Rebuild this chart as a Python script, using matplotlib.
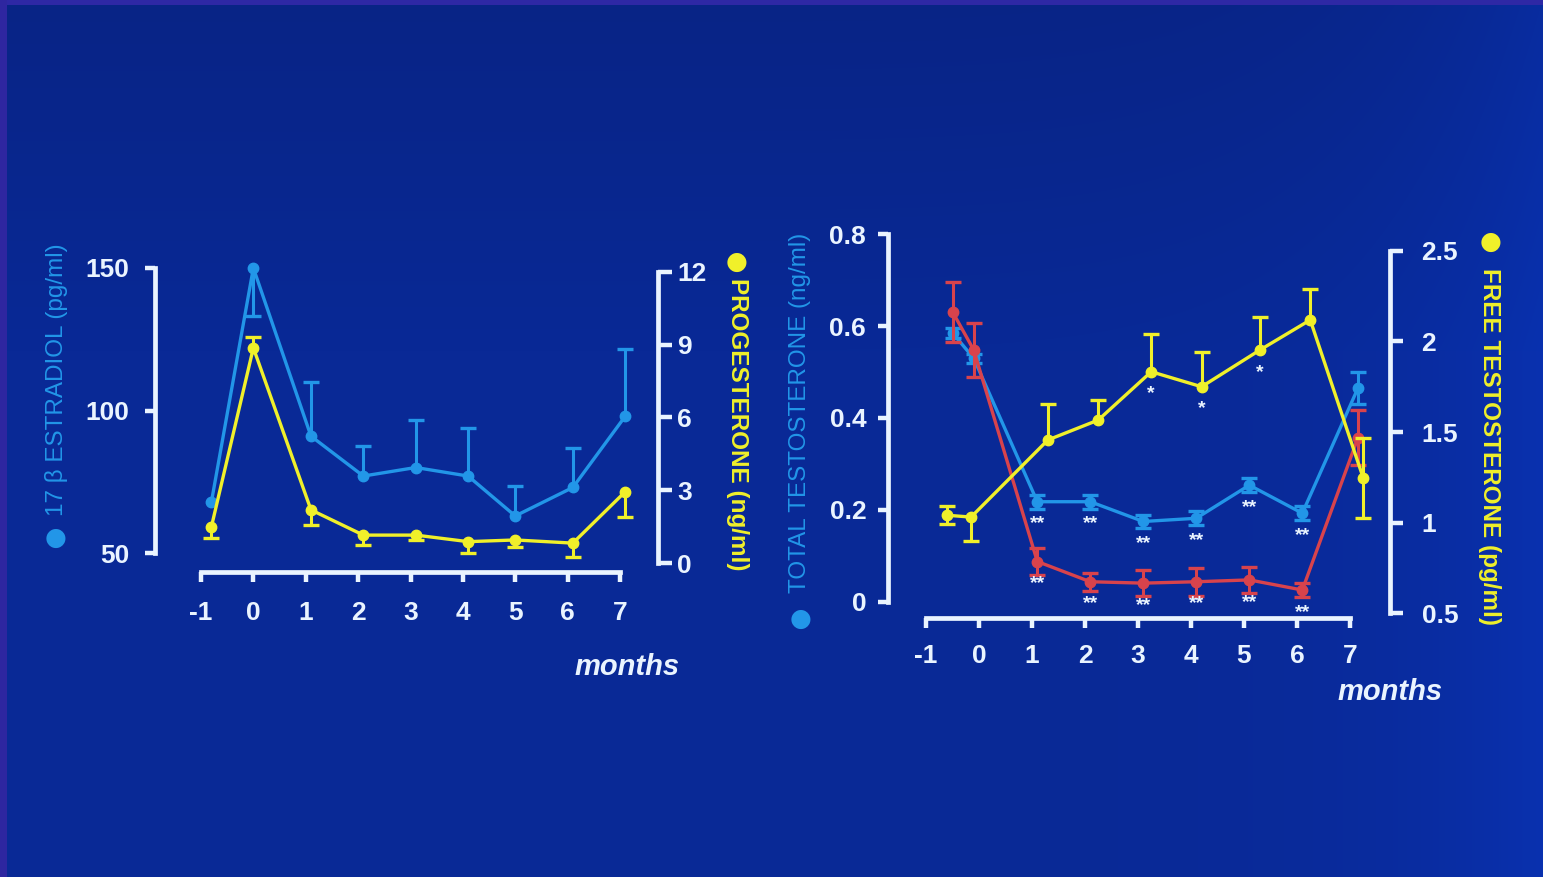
import numpy as np
import matplotlib
matplotlib.use('Agg')
import matplotlib.pyplot as plt

# ---- data ----
# left panel: 17 beta estradiol (pg/ml) and progesterone (ng/ml)
months_l = [-0.8, 0, 1.1, 2.1, 3.1, 4.1, 5.0, 6.1, 7.1]
estradiol = [68, 150, 91, 77, 80, 77, 63, 73, 98]
estradiol_err_lo = [0, 17, 0, 0, 0, 0, 0, 0, 0]
estradiol_err_hi = [0, 0, 19, 10.5, 16.5, 17, 10.5, 14, 23.5]
progesterone = [1.5, 8.87, 2.19, 1.15, 1.15, 0.88, 0.95, 0.82, 2.94]
prog_err_lo = [0.47, 0, 0.62, 0.41, 0.2, 0.46, 0.3, 0.58, 1.03]
prog_err_hi = [0, 0.45, 0, 0, 0, 0, 0, 0, 0]

# right panel: total testosterone (ng/ml), two groups, and free testosterone (pg/ml)
months_tt = [-0.5, -0.1, 1.1, 2.1, 3.1, 4.1, 5.1, 6.1, 7.15]
months_ft = [-0.6, -0.15, 1.3, 2.25, 3.25, 4.2, 5.3, 6.25, 7.25]
tt_blue = [0.585, 0.53, 0.218, 0.218, 0.175, 0.182, 0.254, 0.193, 0.465]
tt_blue_err = [0.01, 0.01, 0.015, 0.015, 0.015, 0.015, 0.015, 0.015, 0.035]
tt_red = [0.631, 0.548, 0.088, 0.044, 0.041, 0.044, 0.048, 0.026, 0.357]
tt_red_err = [0.065, 0.059, 0.03, 0.02, 0.029, 0.03, 0.029, 0.015, 0.06]
free_t = [1.04, 1.03, 1.456, 1.566, 1.833, 1.75, 1.953, 2.119, 1.246]
free_t_err_lo = [0.05, 0.13, 0, 0, 0, 0, 0, 0, 0.22]
free_t_err_hi = [0.05, 0, 0.2, 0.11, 0.21, 0.19, 0.18, 0.17, 0.22]
sig_blue = ['', '', '**', '**', '**', '**', '**', '**', '']
sig_red = ['', '', '**', '**', '**', '**', '**', '**', '']
sig_free = ['', '', '', '', '*', '*', '*', '', '']

month_ticks = [-1, 0, 1, 2, 3, 4, 5, 6, 7]
estradiol_ticks = [50, 100, 150]
prog_ticks = [0, 3, 6, 9, 12]
tt_ticks = [0, 0.2, 0.4, 0.6, 0.8]
tt_labels = ['0', '0.2', '0.4', '0.6', '0.8']
ft_ticks = [0.5, 1, 1.5, 2, 2.5]
ft_labels = ['0.5', '1', '1.5', '2', '2.5']

# colours
WHITE = '#eaf4ff'
BLUE = '#2296e8'
YELLOW = '#f0f02a'
RED = '#d8434c'

W, H = 1543, 877
plt.rcParams['axes.unicode_minus'] = False
plt.rcParams['font.family'] = ['Liberation Sans', 'DejaVu Sans']

fig = plt.figure(figsize=(W / 100, H / 100), dpi=100)

# background: projected slide blue with the purple frame at top / left
bg = fig.add_axes([0, 0, 1, 1], zorder=-10)
yy, xx = np.mgrid[0:1:877j, 0:1:1543j]
top = np.array([8, 36, 134]) / 255
mid = np.array([9, 41, 150]) / 255
t = np.clip(yy / 0.4, 0, 1)[..., None]
img = top + (mid - top) * t
img = img + (np.array([0, 8, 25]) / 255) * (xx ** 10)[..., None]
img[:5, :] = np.array([46, 40, 165]) / 255
img[:, :7] = np.array([46, 38, 160]) / 255
bg.imshow(np.clip(img, 0, 1), aspect='auto', extent=[0, 1, 0, 1])
bg.axis('off')


def px_box(x0, y0, x1, y1):
  return [x0 / W, 1 - y1 / H, (x1 - x0) / W, (y1 - y0) / H]


def style(ax, side, out_px, bounds, ticks, labels, pad_pt, tick_len=7):
  ax.set_facecolor('none')
  for s in ['left', 'right', 'top', 'bottom']:
    ax.spines[s].set_visible(False)
  sp = ax.spines[side]
  sp.set_visible(True)
  sp.set_color(WHITE)
  sp.set_linewidth(3.4)
  sp.set_position(('outward', out_px * 0.72))
  sp.set_bounds(*bounds)
  if side in ('left', 'right'):
    ax.yaxis.set_ticks_position(side)
    ax.set_yticks(ticks)
    ax.set_yticklabels(labels)
    ax.tick_params(axis='y', direction='out', length=tick_len, width=3.2,
                   color=WHITE, pad=pad_pt, labelcolor=WHITE, labelsize=19)
    for lab in ax.get_yticklabels():
      lab.set_fontweight('bold')
  else:
    ax.xaxis.set_ticks_position('bottom')
    ax.set_xticks(ticks)
    ax.set_xticklabels(labels)
    ax.tick_params(axis='x', direction='out', length=tick_len, width=3.2,
                   color=WHITE, pad=pad_pt, labelcolor=WHITE, labelsize=19)
    for lab in ax.get_xticklabels():
      lab.set_fontweight('bold')


def series(ax, x, y, lo, hi, color, z):
  x = np.array(x, dtype=float)
  y = np.array(y, dtype=float)
  lo = np.array(lo, dtype=float)
  hi = np.array(hi, dtype=float)
  # whiskers only on the drawn side(s), caps only where a whisker exists
  ax.vlines(x, y - lo, y + hi, color=color, lw=2.2, zorder=z, clip_on=False)
  ax.plot(x[hi > 0], (y + hi)[hi > 0], '_', color=color, ms=11, mew=2.4,
          zorder=z, clip_on=False)
  ax.plot(x[lo > 0], (y - lo)[lo > 0], '_', color=color, ms=11, mew=2.4,
          zorder=z, clip_on=False)
  ax.plot(x, y, '-o', color=color, ms=7.5, lw=2.4, zorder=z, clip_on=False)


def stars(ax, x, y, marks):
  for xi, yi, m in zip(x, y, marks):
    if m:
      ax.annotate(m, (xi, yi), xytext=(0, -16), textcoords='offset points',
                  ha='center', va='center', color=WHITE, fontsize=14,
                  fontweight='bold', zorder=10)


def axis_label(xp, yp, text, color, rot, dot_xy, bold):
  fig.text(xp / W, 1 - yp / H, text, color=color, fontsize=17.5,
           fontweight='bold' if bold else 'normal', rotation=rot,
           ha='center', va='center')
  fig.text(dot_xy[0] / W, 1 - dot_xy[1] / H, '\u25cf', color=color,
           fontsize=18, ha='center', va='center', family='DejaVu Sans')


# ---------------- left panel ----------------
box_l = px_box(190.5, 253, 630.5, 568)
axL = fig.add_axes(box_l)
axL.set_xlim(-1.2, 7.2)
axL.set_ylim(44.74, 155.26)
style(axL, 'left', 36, (50, 150), estradiol_ticks,
      [str(v) for v in estradiol_ticks], 11)
axL.xaxis.set_visible(False)

axLx = fig.add_axes(box_l)
axLx.set_xlim(-1.2, 7.2)
axLx.set_ylim(0, 1)
style(axLx, 'bottom', 4, (-1, 7), month_ticks,
      [str(v) for v in month_ticks], 14)
axLx.yaxis.set_visible(False)

axLr = fig.add_axes(box_l)
axLr.set_xlim(-1.2, 7.2)
axLr.set_ylim(-0.206, 12.78)
style(axLr, 'right', 27, (0, 12), prog_ticks,
      [str(v) for v in prog_ticks], 4, tick_len=10)
axLr.xaxis.set_visible(False)

series(axL, months_l, estradiol, estradiol_err_lo, estradiol_err_hi, BLUE, 3)
series(axLr, months_l, progesterone, prog_err_lo, prog_err_hi, YELLOW, 4)

fig.text(627 / W, 1 - 667 / H, 'months', color=WHITE, fontsize=21,
         fontweight='bold', fontstyle='italic', ha='center', va='center')
axis_label(57, 380, '17 \u03b2 ESTRADIOL (pg/ml)', BLUE, 90, (56, 538), False)
axis_label(737, 424, 'PROGESTERONE (ng/ml)', YELLOW, -90, (737, 262), True)

# ---------------- right panel ----------------
box_r = px_box(915.4, 225, 1360.6, 615)
axR = fig.add_axes(box_r)
axR.set_xlim(-1.2, 7.2)
axR.set_ylim(-0.0283, 0.8196)
style(axR, 'left', 27, (0, 0.8), tt_ticks, tt_labels, 9)
axR.xaxis.set_visible(False)

axRx = fig.add_axes(box_r)
axRx.set_xlim(-1.2, 7.2)
axRx.set_ylim(0, 1)
style(axRx, 'bottom', 3, (-1, 7), month_ticks,
      [str(v) for v in month_ticks], 12)
axRx.yaxis.set_visible(False)

axRr = fig.add_axes(box_r)
axRr.set_xlim(-1.2, 7.2)
axRr.set_ylim(0.489, 2.6436)
style(axRr, 'right', 29, (0.5, 2.5), ft_ticks, ft_labels, 14, tick_len=9)
axRr.xaxis.set_visible(False)

series(axR, months_tt, tt_blue, tt_blue_err, tt_blue_err, BLUE, 3)
series(axR, months_tt, tt_red, tt_red_err, tt_red_err, RED, 4)
series(axRr, months_ft, free_t, free_t_err_lo, free_t_err_hi, YELLOW, 5)
stars(axR, months_tt, tt_blue, sig_blue)
stars(axR, months_tt, tt_red, sig_red)
stars(axRr, months_ft, free_t, sig_free)

fig.text(1390 / W, 1 - 692 / H, 'months', color=WHITE, fontsize=21,
         fontweight='bold', fontstyle='italic', ha='center', va='center')
axis_label(800, 413, 'TOTAL TESTOSTERONE (ng/ml)', BLUE, 90, (801, 619), False)
axis_label(1489, 447, 'FREE TESTOSTERONE (pg/ml)', YELLOW, -90, (1491, 242), True)

fig.savefig('out.png', dpi=100)
